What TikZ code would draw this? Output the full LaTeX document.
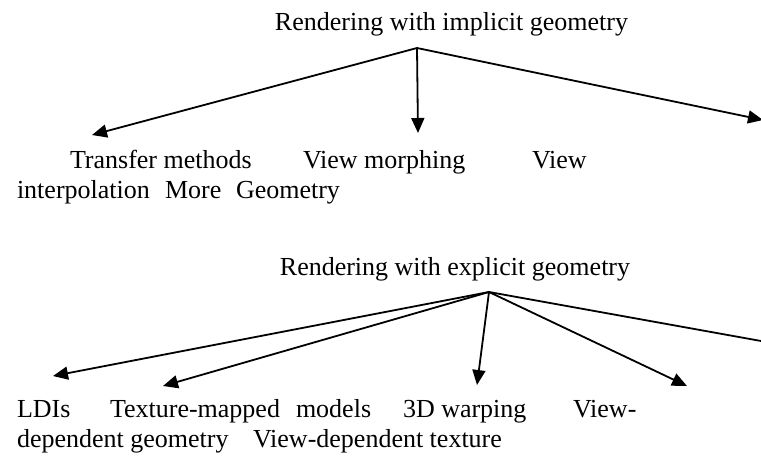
\documentclass[tikz,border=0pt]{standalone}
\usepackage{fontspec}
\setmainfont{Liberation Serif}
\usetikzlibrary{arrows.meta}
\begin{document}
\begin{tikzpicture}[x=1pt,y=-1pt,
  lbl/.style={anchor=base west,inner sep=0pt,outer sep=0pt,font=\fontsize{26}{30}\selectfont},
  ttl/.style={anchor=base,inner sep=0pt,outer sep=0pt,font=\fontsize{26}{30}\selectfont},
  conn/.style={line width=1.8pt,-{Triangle[length=15pt,width=13pt]}}]
\useasboundingbox (0,0) rectangle (761,459);
\fill[white] (0,0) rectangle (761,459);
\clip (0,0) rectangle (761,459);

% implicit geometry
\node[ttl] (impl) at (451.5,30) {Rendering with implicit geometry};
\coordinate (ia) at (417,48);
\coordinate (it1) at (92,135);
\coordinate (it2) at (418,133);
\coordinate (it3) at (763,120);
\draw[conn] (ia) -- (it1);
\draw[conn] (ia) -- (it2);
\draw[conn] (ia) -- (it3);

\node[lbl] (tm) at (70,168) {Transfer methods};
\node[lbl] (vm) at (303,168) {View morphing};
\node[lbl] (vw) at (532,168) {View};
\node[lbl] (ip) at (17,198) {interpolation};
\node[lbl] (mo) at (165,198) {More};
\node[lbl] (ge) at (236,198) {Geometry};

% explicit geometry
\node[ttl] (expl) at (455,275) {Rendering with explicit geometry};
\coordinate (ea) at (489,292);
\coordinate (et1) at (53,376);
\coordinate (et2) at (163,386);
\coordinate (et3) at (477,385);
\coordinate (et4) at (687,386);
\coordinate (et5) at (800,348);
\draw[conn] (ea) -- (et1);
\draw[conn] (ea) -- (et2);
\draw[conn] (ea) -- (et3);
\draw[conn] (ea) -- (et4);
\draw[conn] (ea) -- (et5);

\node[lbl] (ld) at (17,417) {LDIs};
\node[lbl] (tx) at (110,417) {Texture-mapped};
\node[lbl] (md) at (296,417) {models};
\node[lbl] (wp) at (403,417) {3D warping};
\node[lbl] (vd) at (573,417) {View-};
\node[lbl] (dg) at (17,447) {dependent geometry};
\node[lbl] (vt) at (253,447) {View-dependent texture};
\end{tikzpicture}
\end{document}
